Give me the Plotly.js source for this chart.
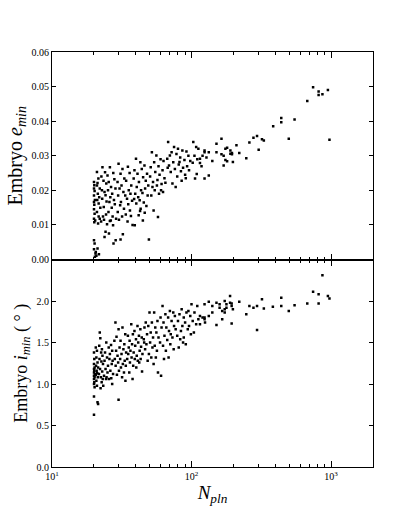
<!DOCTYPE html>
<html>
<head>
<meta charset="utf-8">
<script src="https://cdn.plot.ly/plotly-3.0.1.min.js"></script>
<style>
  body { margin: 0; background: white; }
  #plot { width: 415px; height: 519px; }
</style>
</head>
<body>
<div id="plot"></div>
<script>
// top panel: embryo e_min against N_pln
const nTop = [
  20.0, 20.1, 20.0, 20.2, 20.0, 20.3, 20.0, 20.1, 20.0, 20.2, 20.0, 20.4, 20.1, 20.0, 20.2, 20.0, 20.5, 20.3, 20.6, 20.8,
  21.0, 21.5, 21.2, 21.0, 22.0, 21.3, 21.8, 21.1, 21.6, 22.2, 21.0, 21.6, 22.0, 21.4, 21.2, 21.7,
  23.0, 22.6, 24.0, 23.4, 24.5, 22.8, 23.8, 24.2, 22.9, 24.6, 23.5, 23.2, 24.4, 22.5, 23.6, 24.2, 23.8, 24.8,
  26.0, 25.0, 27.5, 25.5, 28.0, 26.5, 25.2, 27.0, 28.5, 26.2, 25.8, 27.8, 26.8, 25.4, 28.2, 27.2, 26.0, 28.8, 27.4, 25.6, 28.6, 27.6, 26.4,
  30, 32, 35, 31, 36, 33, 29.5, 34, 37, 31.5, 30.5, 35.5, 32.5, 36.5, 29.8, 33.5, 34.5, 31.2, 37.5, 30.8, 35.2, 32.8, 36.2, 29.6, 33.8, 31.8, 34.8, 30.2, 32.2, 31.0, 36.8, 37.8,
  40, 43, 46, 39, 44, 48, 41, 38.5, 45, 42, 47, 49, 40.5, 43.5, 46.5, 39.5, 44.5, 41.5, 48.5, 42.5, 45.5, 47.5, 40.2, 43.2, 46.2, 41.8, 44.8, 39.2, 49.5, 42.8, 38.8,
  52, 56, 60, 54, 63, 51, 58, 62, 55, 50.5, 59, 64, 53, 57, 61, 65, 52.5, 56.5, 60.5, 54.5, 58.5, 62.5, 53.5, 57.5, 51.5,
  68, 75, 80, 72, 86, 92, 70, 78, 95, 67, 83, 89, 74, 98, 69, 81, 93, 76, 87, 71, 84, 96, 79, 90, 73, 85, 77, 91, 67.5, 82,
  103, 108, 112, 105, 110, 102, 118, 115, 115, 124, 124, 124, 133, 133, 106, 109, 120, 128,
  141, 151, 151, 164, 164, 170, 170, 175, 175, 180, 180, 190, 190, 195, 195, 198, 210, 220, 247, 260,
  278, 295, 303, 320, 330, 385, 440, 440, 498, 548, 676, 744, 815, 815, 868, 950, 975
];
const eMin = [
  0.0224, 0.0215, 0.0205, 0.0198, 0.0185, 0.0172, 0.0166, 0.0158, 0.0145, 0.0132, 0.0118, 0.0113, 0.0108, 0.0056, 0.0046, 0.0030, 0.0017, 0.0008, 0.0022, 0.0011,
  0.0253, 0.0234, 0.0221, 0.0214, 0.0205, 0.0190, 0.0180, 0.0172, 0.0162, 0.0150, 0.0137, 0.0124, 0.0118, 0.0104, 0.0032, 0.0015,
  0.0267, 0.0240, 0.0252, 0.0228, 0.0220, 0.0200, 0.0195, 0.0186, 0.0176, 0.0168, 0.0152, 0.0124, 0.0130, 0.0110, 0.0115, 0.0080, 0.0065, 0.0102,
  0.0267, 0.0243, 0.0250, 0.0224, 0.0232, 0.0210, 0.0200, 0.0190, 0.0205, 0.0180, 0.0166, 0.0172, 0.0150, 0.0137, 0.0160, 0.0124, 0.0111, 0.0118, 0.0099, 0.0075, 0.0056, 0.0046, 0.0113,
  0.0277, 0.0262, 0.0268, 0.0248, 0.0250, 0.0234, 0.0224, 0.0228, 0.0214, 0.0214, 0.0205, 0.0200, 0.0195, 0.0190, 0.0185, 0.0185, 0.0176, 0.0166, 0.0170, 0.0157, 0.0160, 0.0147, 0.0142, 0.0137, 0.0130, 0.0124, 0.0110, 0.0115, 0.0073, 0.0058, 0.0126, 0.0100,
  0.0291, 0.0281, 0.0272, 0.0258, 0.0262, 0.0248, 0.0248, 0.0234, 0.0238, 0.0224, 0.0228, 0.0214, 0.0210, 0.0200, 0.0205, 0.0190, 0.0192, 0.0180, 0.0185, 0.0171, 0.0165, 0.0155, 0.0162, 0.0147, 0.0135, 0.0128, 0.0113, 0.0099, 0.0058, 0.0140, 0.0175,
  0.0310, 0.0301, 0.0290, 0.0281, 0.0285, 0.0267, 0.0270, 0.0258, 0.0253, 0.0240, 0.0245, 0.0235, 0.0224, 0.0230, 0.0218, 0.0222, 0.0210, 0.0214, 0.0200, 0.0200, 0.0190, 0.0195, 0.0142, 0.0123, 0.0185,
  0.0340, 0.0325, 0.0320, 0.0310, 0.0315, 0.0312, 0.0301, 0.0305, 0.0300, 0.0291, 0.0295, 0.0288, 0.0281, 0.0285, 0.0272, 0.0275, 0.0270, 0.0262, 0.0265, 0.0253, 0.0255, 0.0258, 0.0240, 0.0245, 0.0220, 0.0228, 0.0210, 0.0235, 0.0265, 0.0282,
  0.0340, 0.0325, 0.0320, 0.0300, 0.0290, 0.0280, 0.0270, 0.0291, 0.0279, 0.0315, 0.0310, 0.0234, 0.0243, 0.0310, 0.0234, 0.0247, 0.0300, 0.0295,
  0.0285, 0.0335, 0.0310, 0.0349, 0.0304, 0.0272, 0.0300, 0.0320, 0.0288, 0.0323, 0.0284, 0.0315, 0.0306, 0.0308, 0.0304, 0.0282, 0.0330, 0.0308, 0.0293, 0.0338,
  0.0352, 0.0357, 0.0317, 0.0348, 0.0344, 0.0385, 0.0397, 0.0409, 0.0349, 0.0405, 0.0458, 0.0498, 0.0486, 0.0476, 0.0478, 0.0490, 0.0346
];

// bottom panel: embryo i_min (degrees) against N_pln
const nBot = [
  20.0, 20.1, 20.0, 20.2, 20.0, 20.1, 20.0, 20.3, 20.0, 20.2, 20.0, 20.1, 20.0, 20.2, 20.0, 20.0,
  20.6, 21.0, 20.8, 21.2, 20.7, 21.4, 20.9, 21.1, 20.6, 21.3, 20.8, 21.0, 21.2, 21.4,
  22.0, 22.2, 21.8, 22.8, 22.5, 23.0, 21.9, 22.6, 23.2, 22.1, 22.9, 21.7, 22.4, 23.1, 22.7, 22.3, 23.3,
  24.5, 25.5, 26.5, 24.0, 26.0, 27.0, 24.8, 25.8, 27.2, 23.8, 25.2, 26.8, 24.2, 26.2, 25.0, 27.4, 24.6, 25.6, 26.6, 24.4, 27.0, 23.6,
  28.5, 30.0, 32.0, 29.0, 33.5, 28.0, 31.0, 30.5, 33.0, 28.8, 32.5, 29.5, 31.5, 34.0, 28.2, 30.8, 33.2, 29.8, 32.2, 28.6, 31.2, 33.8, 30.2, 32.8, 29.2, 31.8, 33.6, 30.0,
  37, 41, 39, 43, 35, 38, 42, 36, 40, 44, 37.5, 41.5, 35.5, 39.5, 43.5, 36.5, 38.5, 42.5, 35.2, 40.5, 44.5, 37.2, 39.2, 41.2, 43.2, 36.2, 38.2, 42.2, 35.8, 40.2, 37.8, 44.2, 34.6,
  50, 54, 47, 52, 57, 46, 49, 55, 48, 51, 56, 45.5, 53, 58, 47.5, 50.5, 54.5, 46.5, 52.5, 56.5, 49.5, 51.5, 55.5, 53.5, 57.5, 48.5, 45.8,
  62, 70, 65, 74, 60, 68, 76, 63, 72, 66, 61, 69, 75, 64, 71, 77, 67, 73, 59.5, 62.5, 70.5, 65.5, 74.5, 68.5, 63.5, 60.5,
  100, 110, 85, 95, 105, 82, 92, 115, 88, 98, 120, 80, 102, 112, 90, 108, 86, 96, 125, 84, 94, 104, 79, 88, 99, 83, 91, 81, 87,
  115, 124, 124, 124, 133, 133, 141, 141, 151, 151, 159, 159, 166, 166, 173, 173, 173, 178, 178, 189, 189, 194, 194, 194, 198,
  220, 247, 260, 278, 295, 295, 320, 330, 383, 440, 440, 498, 548, 676, 744, 815, 815, 868, 950, 975
];
const iMin = [
  1.38, 1.30, 1.24, 1.20, 1.18, 1.16, 1.14, 1.12, 1.10, 1.08, 1.06, 1.02, 1.00, 0.96, 0.85, 0.63,
  1.44, 1.40, 1.32, 1.26, 1.22, 1.20, 1.16, 1.13, 1.11, 1.08, 1.04, 0.98, 0.78, 0.76,
  1.62, 1.55, 1.46, 1.42, 1.38, 1.34, 1.30, 1.27, 1.24, 1.18, 1.15, 1.12, 1.08, 1.06, 1.02, 0.95, 0.98,
  1.50, 1.44, 1.47, 1.38, 1.36, 1.40, 1.32, 1.30, 1.28, 1.28, 1.22, 1.24, 1.18, 1.16, 1.14, 1.12, 1.08, 1.06, 1.07, 1.06, 1.00, 1.10,
  1.74, 1.66, 1.68, 1.57, 1.60, 1.52, 1.52, 1.44, 1.48, 1.40, 1.42, 1.34, 1.36, 1.38, 1.30, 1.30, 1.28, 1.26, 1.24, 1.22, 1.20, 1.22, 1.16, 1.14, 1.11, 1.08, 1.04, 0.81,
  1.72, 1.70, 1.64, 1.66, 1.58, 1.60, 1.58, 1.52, 1.54, 1.56, 1.48, 1.50, 1.44, 1.46, 1.45, 1.40, 1.38, 1.40, 1.36, 1.34, 1.36, 1.32, 1.30, 1.28, 1.30, 1.26, 1.22, 1.26, 1.14, 1.20, 1.06, 1.15, 1.30,
  1.86, 1.86, 1.74, 1.74, 1.76, 1.68, 1.70, 1.68, 1.60, 1.62, 1.62, 1.54, 1.56, 1.56, 1.48, 1.50, 1.46, 1.42, 1.44, 1.40, 1.36, 1.32, 1.32, 1.24, 1.14, 1.28, 1.50,
  1.94, 1.88, 1.84, 1.86, 1.80, 1.80, 1.82, 1.74, 1.76, 1.68, 1.68, 1.64, 1.70, 1.58, 1.60, 1.66, 1.53, 1.56, 1.50, 1.46, 1.48, 1.40, 1.42, 1.32, 1.30, 1.10,
  1.96, 1.94, 1.90, 1.88, 1.86, 1.84, 1.86, 1.82, 1.80, 1.82, 1.80, 1.76, 1.76, 1.78, 1.74, 1.72, 1.70, 1.70, 1.74, 1.64, 1.66, 1.62, 1.58, 1.56, 1.60, 1.54, 1.48, 1.44, 1.50,
  1.72, 1.96, 1.80, 1.78, 1.99, 1.82, 1.94, 1.86, 1.98, 1.71, 1.92, 1.96, 1.88, 1.78, 2.00, 1.90, 1.86, 1.96, 1.92, 2.06, 1.98, 1.97, 1.94, 1.73, 1.90,
  1.99, 1.84, 1.94, 1.92, 1.65, 1.94, 2.02, 1.91, 1.93, 2.04, 1.94, 1.88, 1.95, 1.97, 2.11, 2.08, 1.97, 2.31, 2.06, 2.03
];

// axis ticks
const decadeTicks = [10, 100, 1000];
const decadeLabels = ['10<sup>1</sup>', '10<sup>2</sup>', '10<sup>3</sup>'];
const minorTicks = [20, 30, 40, 50, 60, 70, 80, 90, 200, 300, 400, 500, 600, 700, 800, 900, 2000];
const eTicks = [0, 0.01, 0.02, 0.03, 0.04, 0.05, 0.06];
const iTicks = [0, 0.5, 1.0, 1.5, 2.0];

const serif = 'Liberation Serif, Times New Roman, serif';

function xAxis(showLabels, anchor) {
  return {
    type: 'log',
    range: [1, Math.log10(2000)],
    anchor: anchor,
    showline: true,
    linecolor: 'black',
    linewidth: 1,
    mirror: 'allticks',
    ticks: 'inside',
    ticklen: 6,
    tickcolor: 'black',
    tickvals: decadeTicks,
    ticktext: decadeLabels,
    showticklabels: showLabels,
    showgrid: false,
    zeroline: false,
    minor: { tickvals: minorTicks, ticks: 'inside', ticklen: 3, tickcolor: 'black', showgrid: false },
    tickfont: { family: serif, size: 10, color: 'black' }
  };
}

function yAxis(range, vals, fmt, domain, anchor) {
  return {
    range: range,
    tickmode: 'array',
    tickvals: vals,
    tickformat: fmt,
    domain: domain,
    anchor: anchor,
    showline: true,
    linecolor: 'black',
    linewidth: 1,
    mirror: 'ticks',
    ticks: 'inside',
    ticklen: 4,
    tickcolor: 'black',
    showgrid: false,
    zeroline: false,
    tickfont: { family: serif, size: 10, color: 'black' }
  };
}

const dots = { color: 'black', size: 2.5, symbol: 'square' };

const data = [
  { x: nTop, y: eMin, xaxis: 'x2', yaxis: 'y2', type: 'scatter', mode: 'markers', marker: dots, hoverinfo: 'none' },
  { x: nBot, y: iMin, xaxis: 'x', yaxis: 'y', type: 'scatter', mode: 'markers', marker: dots, hoverinfo: 'none' }
];

const layout = {
  width: 415,
  height: 519,
  margin: { l: 52, r: 42, t: 52, b: 52 },
  paper_bgcolor: 'white',
  plot_bgcolor: 'white',
  showlegend: false,
  font: { family: serif, color: 'black' },
  xaxis: Object.assign(xAxis(true, 'y'), {
    title: { text: '<i>N</i><sub><i>pln</i></sub>', font: { family: serif, size: 19 }, standoff: 4 }
  }),
  xaxis2: Object.assign(xAxis(false, 'y2'), { matches: 'x' }),
  yaxis: Object.assign(yAxis([0, 2.5], iTicks, '.1f', [0, 0.5], 'x'), {
    title: { text: 'Embryo <i>i</i><sub><i>min</i></sub> ( ° )', font: { family: serif, size: 18 }, standoff: 4 }
  }),
  yaxis2: Object.assign(yAxis([0, 0.06], eTicks, '.2f', [0.5, 1], 'x2'), {
    title: { text: 'Embryo <i>e</i><sub><i>min</i></sub>', font: { family: serif, size: 20 }, standoff: 3 }
  })
};

Plotly.newPlot('plot', data, layout, { staticPlot: true, displayModeBar: false });
</script>
</body>
</html>
